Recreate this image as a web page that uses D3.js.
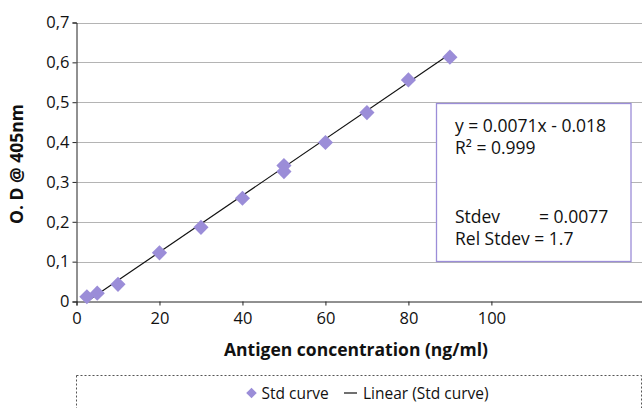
<!DOCTYPE html>
<html>
<head>
<meta charset="utf-8">
<script src="https://cdn.jsdelivr.net/npm/d3@7"></script>
<style>
  html, body { margin: 0; padding: 0; background: #fff; }
  svg { display: block; font-family: "Open Sans", "Noto Sans", sans-serif; }
</style>
</head>
<body>
<svg id="chart" width="642" height="408"></svg>
<script>
// ---- data ----
const concentrations = [2.5, 5, 10, 20, 30, 40, 50, 50, 60, 70, 80, 90];
const odValues = [0.012, 0.021, 0.043, 0.122, 0.186, 0.259, 0.341, 0.326, 0.399, 0.474, 0.556, 0.613];
const xTicks = [0, 20, 40, 60, 80, 100];
const yTicks = [0, 0.1, 0.2, 0.3, 0.4, 0.5, 0.6, 0.7];
const fitSlope = [0.0071];
const fitIntercept = [-0.018];
const statLabels = ["y = 0.0071x - 0.018", "R\u00B2 = 0.999", "Stdev", "Rel Stdev = 1.7"];
const statValues = ["", "", "= 0.0077", ""];
const seriesName = "Std curve";
const trendName = "Linear (Std curve)";
const xTitle = "Antigen concentration (ng/ml)";
const yTitle = "O. D @ 405nm";

(function () {
const svg = d3.select("#chart");
const purple = "#9b8dd8";
const gridColor = "#b4b4b4";
const ink = "#111";

const pL = 76.5, pR = 642, pT = 22.5, pB = 301.5;
const x = d3.scaleLinear().domain([0, 136.3]).range([pL, pR]);
const y = d3.scaleLinear().domain([0, 0.7]).range([pB, pT]);

const locale = d3.formatLocale({decimal: ",", thousands: ".", grouping: [3], currency: ["", ""]});
const yFmt = d => d === 0 ? "0" : locale.format(".1f")(d);

// gridlines
svg.append("g").selectAll("line").data(yTicks.filter(d => d > 0)).join("line")
  .attr("x1", pL).attr("x2", pR)
  .attr("y1", d => Math.round(y(d)) + 0.5).attr("y2", d => Math.round(y(d)) + 0.5)
  .attr("stroke", gridColor).attr("stroke-width", 1);

// axes
const yAxis = svg.append("g").attr("transform", `translate(${pL},0)`)
  .call(d3.axisLeft(y).tickValues(yTicks).tickFormat(yFmt).tickSizeOuter(0).tickSize(4).tickPadding(3));
const xAxis = svg.append("g").attr("transform", `translate(0,${pB})`)
  .call(d3.axisBottom(x).tickValues(xTicks).tickFormat(d3.format("d")).tickSizeOuter(0).tickSize(4).tickPadding(7));
[yAxis, xAxis].forEach(g => {
  g.selectAll("text").attr("font-size", 16.5).attr("fill", ink).attr("font-family", "'Open Sans', sans-serif");
  g.selectAll("line").attr("stroke", "#222");
  g.select(".domain").attr("stroke", "#222");
});

// trend line
const xFit = d3.extent(concentrations);
const fitLine = d3.line().x(d => x(d)).y(d => y(fitSlope[0] * d + fitIntercept[0]));
svg.append("path").datum(xFit).attr("d", fitLine)
  .attr("fill", "none").attr("stroke", "#111").attr("stroke-width", 1.2);

// points
svg.append("g").selectAll("path").data(concentrations.map((c, i) => [c, odValues[i]])).join("path")
  .attr("transform", d => `translate(${x(d[0])},${y(d[1])}) rotate(45)`)
  .attr("d", d3.symbol().type(d3.symbolSquare).size(115))
  .attr("fill", purple);

// stats box
const box = svg.append("g");
box.append("rect").attr("x", 436.5).attr("y", 103.5).attr("width", 194.5).attr("height", 158)
  .attr("fill", "#fff").attr("stroke", purple).attr("stroke-width", 1.3);
const statY = [131.5, 154, 222.5, 245];
box.selectAll("text.lab").data(statLabels).join("text").attr("class", "lab")
  .attr("x", 455).attr("y", (d, i) => statY[i])
  .attr("font-size", 17.5).attr("fill", ink)
  .text(d => d);
box.selectAll("text.val").data(statValues).join("text").attr("class", "val")
  .attr("x", 539).attr("y", (d, i) => statY[i])
  .attr("font-size", 17.5).attr("fill", ink)
  .text(d => d);

// axis titles
svg.append("text").attr("x", 356).attr("y", 355.5).attr("text-anchor", "middle")
  .attr("font-size", 17.5).attr("font-weight", "bold").attr("fill", ink).text(xTitle);
svg.append("text").attr("transform", "translate(23,164) rotate(-90)").attr("text-anchor", "middle")
  .attr("font-size", 17.5).attr("font-weight", "bold").attr("fill", ink).text(yTitle);

// legend
const lg = svg.append("g");
lg.append("rect").attr("x", 76.5).attr("y", 375.5).attr("width", 565).attr("height", 60)
  .attr("fill", "none").attr("stroke", "#555").attr("stroke-dasharray", "2,2").attr("stroke-width", 1);
lg.append("path").attr("transform", "translate(251.5,393) rotate(45)")
  .attr("d", d3.symbol().type(d3.symbolSquare).size(56)).attr("fill", purple);
lg.append("text").attr("x", 261.5).attr("y", 398.5).attr("font-size", 15.5).attr("fill", ink).text(seriesName);
lg.append("line").attr("x1", 344).attr("x2", 357).attr("y1", 393).attr("y2", 393).attr("stroke", "#111").attr("stroke-width", 1.2);
lg.append("text").attr("x", 363).attr("y", 398.5).attr("font-size", 15.5).attr("fill", ink).text(trendName);
})();
</script>
</body>
</html>
